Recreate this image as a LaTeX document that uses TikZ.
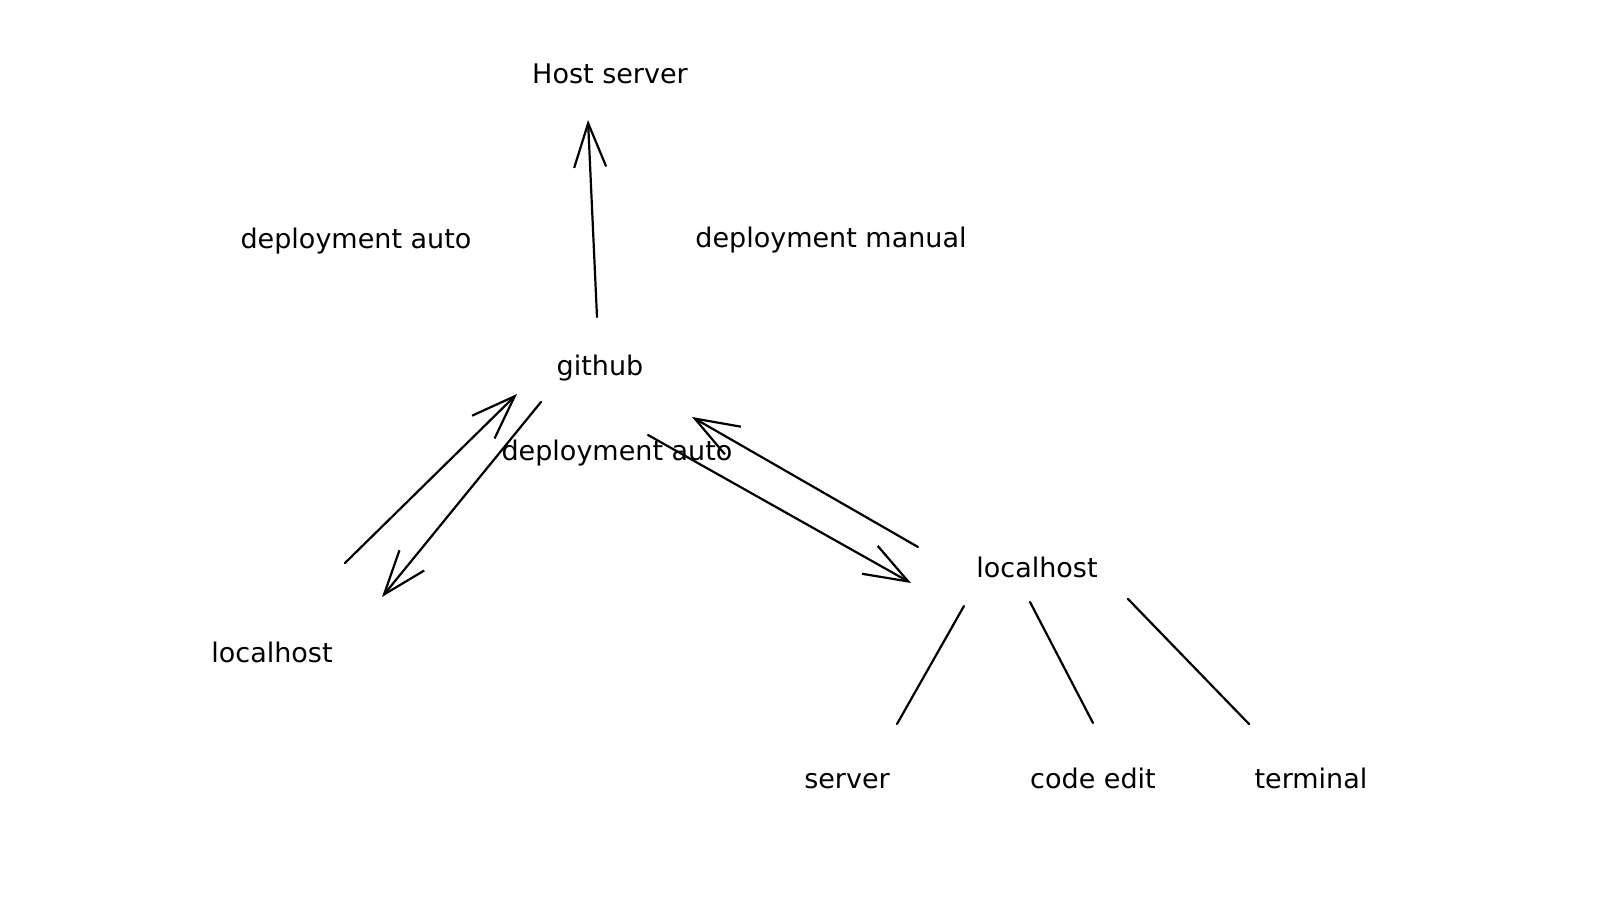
\documentclass[tikz,border=0pt]{standalone}
\usepackage{fontspec}
\setmainfont{DejaVu Sans}
\usetikzlibrary{arrows.meta}
\begin{document}
\begin{tikzpicture}[x=0.5pt,y=-0.5pt,
  lbl/.style={inner sep=0pt, text height=10pt, text depth=3pt, font=\fontsize{13.5pt}{16pt}\selectfont, text=black},
  conn/.style={draw=black, line width=1.1pt, line cap=round},
  arr/.style={conn, -{Straight Barb[length=22pt,width=16pt,line width=1.1pt]}},
]
\useasboundingbox[fill=white] (0,0) rectangle (1608,898);

% labels
\node[lbl] (host) at (610,77) {Host server};
\node[lbl] (dauto1) at (356,242) {deployment auto};
\node[lbl] (dman) at (831,241) {deployment manual};
\node[lbl] (github) at (600,369) {github};
\node[lbl] (dauto2) at (617,454) {deployment auto};
\node[lbl] (lhl) at (272,656) {localhost};
\node[lbl] (lhr) at (1037,571) {localhost};
\node[lbl] (srv) at (847,781) {server};
\node[lbl] (code) at (1093,781) {code edit};
\node[lbl] (term) at (1311,781) {terminal};

% connector end points
\coordinate (v0) at (597,317);
\coordinate (v1) at (588,120);
\coordinate (a0) at (345,563);
\coordinate (a1) at (517,394);
\coordinate (b0) at (541,402);
\coordinate (b1) at (382,597);
\coordinate (c0) at (918,547);
\coordinate (c1) at (692,417);
\coordinate (d0) at (648,435);
\coordinate (d1) at (911,583);
\coordinate (l1a) at (964,606);
\coordinate (l1b) at (897,724);
\coordinate (l2a) at (1030,602);
\coordinate (l2b) at (1093,723);
\coordinate (l3a) at (1128,599);
\coordinate (l3b) at (1249,724);

% arrows
\draw[arr] (v0) -- (v1);
\draw[arr] (a0) -- (a1);
\draw[arr] (b0) -- (b1);
\draw[arr] (c0) -- (c1);
\draw[arr] (d0) -- (d1);

% tree lines
\draw[conn] (l1a) -- (l1b);
\draw[conn] (l2a) -- (l2b);
\draw[conn] (l3a) -- (l3b);
\end{tikzpicture}
\end{document}
